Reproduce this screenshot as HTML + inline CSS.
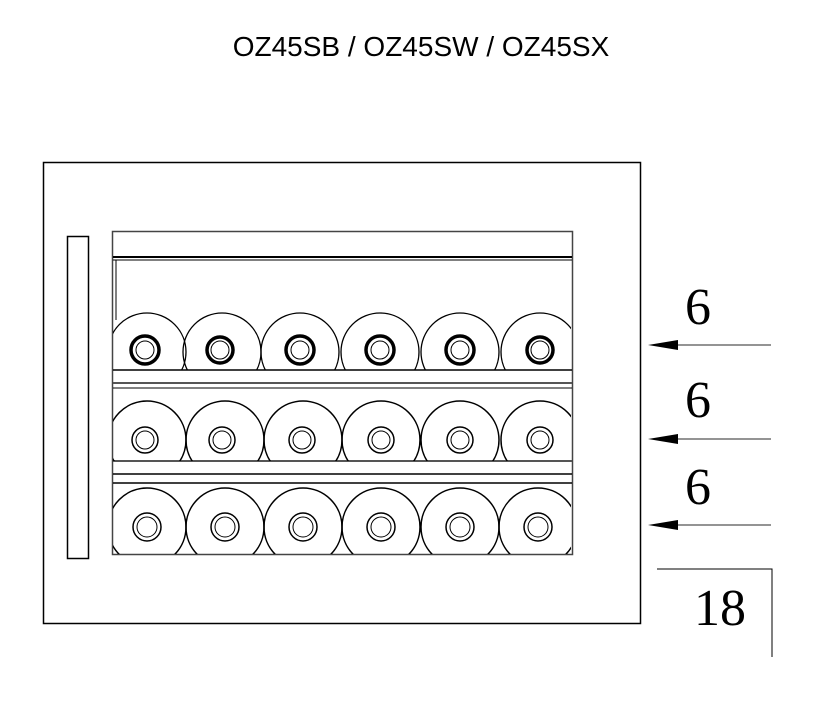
<!DOCTYPE html>
<html><head><style>body{margin:0;background:#fff}</style></head><body>
<svg width="834" height="716" xmlns="http://www.w3.org/2000/svg">
<defs>
<clipPath id="c1"><rect x="113" y="260" width="458" height="110"/></clipPath>
<clipPath id="c2"><rect x="113" y="386" width="458" height="75"/></clipPath>
<clipPath id="c3"><rect x="113" y="484" width="458" height="70"/></clipPath>
</defs>
<text x="421" y="56" font-family="Liberation Sans, sans-serif" font-size="28" text-anchor="middle" fill="#000">OZ45SB / OZ45SW / OZ45SX</text>
<g fill="none" stroke="#000">
<rect x="43.5" y="162.5" width="597" height="461" stroke-width="1.5"/>
<rect x="67.5" y="236.5" width="21" height="322" stroke-width="1.5"/>
<rect x="112.5" y="231.5" width="460" height="323" stroke-width="1.5" stroke="#444"/>
<line x1="113" y1="257" x2="572" y2="257" stroke-width="2"/>
<line x1="113" y1="260" x2="572" y2="260" stroke-width="1"/>
<line x1="116" y1="260" x2="116" y2="320" stroke-width="1"/>
<line x1="113" y1="370" x2="572" y2="370" stroke-width="1.5"/>
<line x1="113" y1="383" x2="572" y2="383" stroke-width="2" stroke="#555"/>
<line x1="113" y1="388" x2="572" y2="388" stroke-width="1"/>
<line x1="113" y1="461" x2="572" y2="461" stroke-width="2" stroke="#555"/>
<line x1="113" y1="474" x2="572" y2="474" stroke-width="1.5"/>
<line x1="113" y1="483" x2="572" y2="483" stroke-width="1.5"/>
<g clip-path="url(#c1)" stroke-width="1.3">
<circle cx="147" cy="352" r="39"/><circle cx="222" cy="352" r="39"/><circle cx="300" cy="352" r="39"/><circle cx="380" cy="352" r="39"/><circle cx="460" cy="352" r="39"/><circle cx="540" cy="352" r="39"/>
</g>
<g stroke-width="3.5">
<circle cx="145" cy="350" r="14"/><circle cx="220" cy="350" r="13"/><circle cx="300" cy="350" r="14"/><circle cx="380" cy="350" r="14"/><circle cx="460" cy="350" r="14"/><circle cx="540" cy="350" r="13"/>
</g>
<g stroke-width="1">
<circle cx="145" cy="350" r="9"/><circle cx="220" cy="350" r="9"/><circle cx="300" cy="350" r="9"/><circle cx="380" cy="350" r="9"/><circle cx="460" cy="350" r="9"/><circle cx="540" cy="350" r="9"/>
</g>
<g clip-path="url(#c2)" stroke-width="1.5">
<circle cx="147" cy="440" r="39"/><circle cx="225" cy="440" r="39"/><circle cx="303" cy="440" r="39"/><circle cx="381" cy="440" r="39"/><circle cx="460" cy="440" r="39"/><circle cx="540" cy="440" r="39"/>
</g>
<g clip-path="url(#c3)" stroke-width="1.5">
<circle cx="147" cy="527" r="39"/><circle cx="225" cy="527" r="39"/><circle cx="303" cy="527" r="39"/><circle cx="381" cy="527" r="39"/><circle cx="460" cy="527" r="39"/><circle cx="538" cy="527" r="39"/>
</g>
<g stroke-width="1.5">
<circle cx="145" cy="440" r="13"/><circle cx="222" cy="440" r="13"/><circle cx="302" cy="440" r="13"/><circle cx="381" cy="440" r="13"/><circle cx="460" cy="440" r="13"/><circle cx="540" cy="440" r="13"/>
<circle cx="147" cy="527" r="14"/><circle cx="225" cy="527" r="14"/><circle cx="303" cy="527" r="14"/><circle cx="381" cy="527" r="14"/><circle cx="460" cy="527" r="14"/><circle cx="538" cy="527" r="14"/>
</g>
<g stroke-width="1">
<circle cx="145" cy="440" r="9"/><circle cx="222" cy="440" r="9"/><circle cx="302" cy="440" r="9"/><circle cx="381" cy="440" r="9"/><circle cx="460" cy="440" r="9"/><circle cx="540" cy="440" r="9"/>
<circle cx="147" cy="527" r="10"/><circle cx="225" cy="527" r="10"/><circle cx="303" cy="527" r="10"/><circle cx="381" cy="527" r="10"/><circle cx="460" cy="527" r="10"/><circle cx="538" cy="527" r="10"/>
</g>
<g stroke="#555" stroke-width="1.2">
<line x1="678" y1="345" x2="771" y2="345"/><line x1="678" y1="439" x2="771" y2="439"/><line x1="678" y1="525" x2="771" y2="525"/>
</g>
<polyline points="657,569 772,569 772,657" stroke-width="1"/>
</g>
<g fill="#000">
<polygon points="648,345 678,340 678,350"/>
<polygon points="648,439 678,434 678,444"/>
<polygon points="648,525 678,520 678,530"/>
</g>
<g font-family="Liberation Serif, serif" font-size="52" fill="#000" text-anchor="middle">
<text x="698" y="324">6</text><text x="698" y="417">6</text><text x="698" y="504">6</text>
<text x="720" y="625">18</text>
</g>
</svg>
</body></html>
